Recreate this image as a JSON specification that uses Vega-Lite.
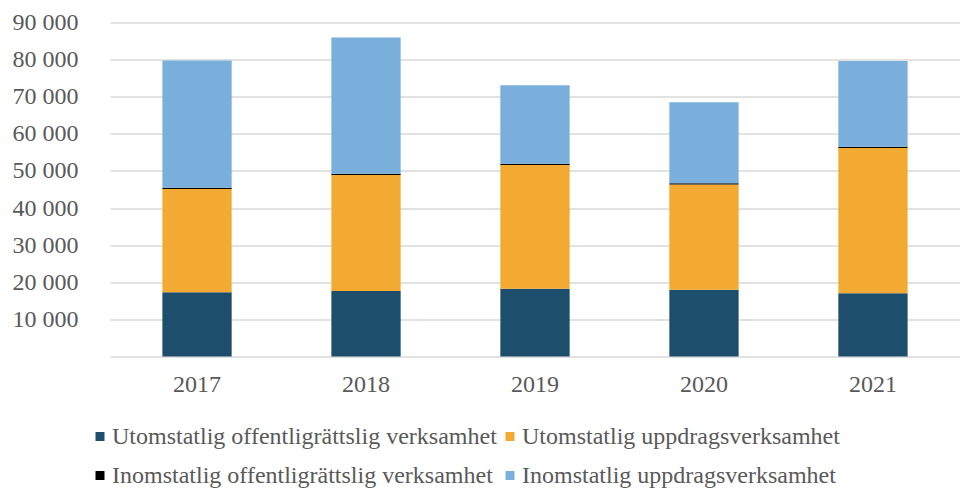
{
  "$schema": "https://vega.github.io/schema/vega-lite/v6.json",
  "autosize": "none",
  "width": 850,
  "height": 334,
  "padding": {"left": 110, "top": 22.5, "right": 0, "bottom": 132.5},
  "background": "white",
  "data": {
    "values": [
      {"year": "2017", "cat": "Utomstatlig offentligrättslig verksamhet", "ord": 1, "value": 17300},
      {"year": "2017", "cat": "Utomstatlig uppdragsverksamhet", "ord": 2, "value": 27850},
      {"year": "2017", "cat": "Inomstatlig offentligrättslig verksamhet", "ord": 3, "value": 350},
      {"year": "2017", "cat": "Inomstatlig uppdragsverksamhet", "ord": 4, "value": 34230},
      {"year": "2018", "cat": "Utomstatlig offentligrättslig verksamhet", "ord": 1, "value": 17650},
      {"year": "2018", "cat": "Utomstatlig uppdragsverksamhet", "ord": 2, "value": 31250},
      {"year": "2018", "cat": "Inomstatlig offentligrättslig verksamhet", "ord": 3, "value": 350},
      {"year": "2018", "cat": "Inomstatlig uppdragsverksamhet", "ord": 4, "value": 36680},
      {"year": "2019", "cat": "Utomstatlig offentligrättslig verksamhet", "ord": 1, "value": 18280},
      {"year": "2019", "cat": "Utomstatlig uppdragsverksamhet", "ord": 2, "value": 33320},
      {"year": "2019", "cat": "Inomstatlig offentligrättslig verksamhet", "ord": 3, "value": 350},
      {"year": "2019", "cat": "Inomstatlig uppdragsverksamhet", "ord": 4, "value": 21150},
      {"year": "2020", "cat": "Utomstatlig offentligrättslig verksamhet", "ord": 1, "value": 18000},
      {"year": "2020", "cat": "Utomstatlig uppdragsverksamhet", "ord": 2, "value": 28360},
      {"year": "2020", "cat": "Inomstatlig offentligrättslig verksamhet", "ord": 3, "value": 350},
      {"year": "2020", "cat": "Inomstatlig uppdragsverksamhet", "ord": 4, "value": 21810},
      {"year": "2021", "cat": "Utomstatlig offentligrättslig verksamhet", "ord": 1, "value": 17030},
      {"year": "2021", "cat": "Utomstatlig uppdragsverksamhet", "ord": 2, "value": 39170},
      {"year": "2021", "cat": "Inomstatlig offentligrättslig verksamhet", "ord": 3, "value": 350},
      {"year": "2021", "cat": "Inomstatlig uppdragsverksamhet", "ord": 4, "value": 23100}
    ]
  },
  "mark": {"type": "bar"},
  "encoding": {
    "x": {
      "field": "year", "type": "nominal",
      "scale": {"paddingInner": 0.59, "paddingOuter": 0.31},
      "axis": {
        "title": null, "labelAngle": 0, "domain": false, "ticks": false,
        "labelFont": "Liberation Serif", "labelFontSize": 24, "labelColor": "#595959",
        "labelPadding": 16
      }
    },
    "y": {
      "field": "value", "type": "quantitative", "stack": "zero",
      "scale": {"domain": [0, 90000], "nice": false},
      "axis": {
        "title": null, "domain": false, "ticks": false,
        "values": [0, 10000, 20000, 30000, 40000, 50000, 60000, 70000, 80000, 90000],
        "labelOverlap": false,
        "labelExpr": "datum.value == 0 ? '' : replace(format(datum.value, ','), ',', ' ')",
        "labelFont": "Liberation Serif", "labelFontSize": 24, "labelColor": "#595959",
        "labelPadding": 32,
        "gridColor": "#d9d9d9", "gridWidth": 1.5
      }
    },
    "color": {
      "field": "cat", "type": "nominal",
      "scale": {
        "domain": ["Utomstatlig offentligrättslig verksamhet", "Utomstatlig uppdragsverksamhet", "Inomstatlig offentligrättslig verksamhet", "Inomstatlig uppdragsverksamhet"],
        "range": ["#1d4e6b", "#f3aa33", "#000000", "#7aafdb"]
      },
      "legend": {
        "title": null, "orient": "none", "legendX": -22, "legendY": 402,
        "direction": "horizontal", "columns": 2, "gridAlign": "all", "padding": 0,
        "symbolType": "square", "symbolSize": 81, "symbolStrokeWidth": 0,
        "labelFont": "Liberation Serif", "labelFontSize": 24, "labelColor": "#595959",
        "rowPadding": 15, "columnPadding": 1, "labelOffset": 0, "labelLimit": 600
      }
    },
    "order": {"field": "ord", "type": "quantitative"}
  },
  "config": {"view": {"stroke": null}}
}
